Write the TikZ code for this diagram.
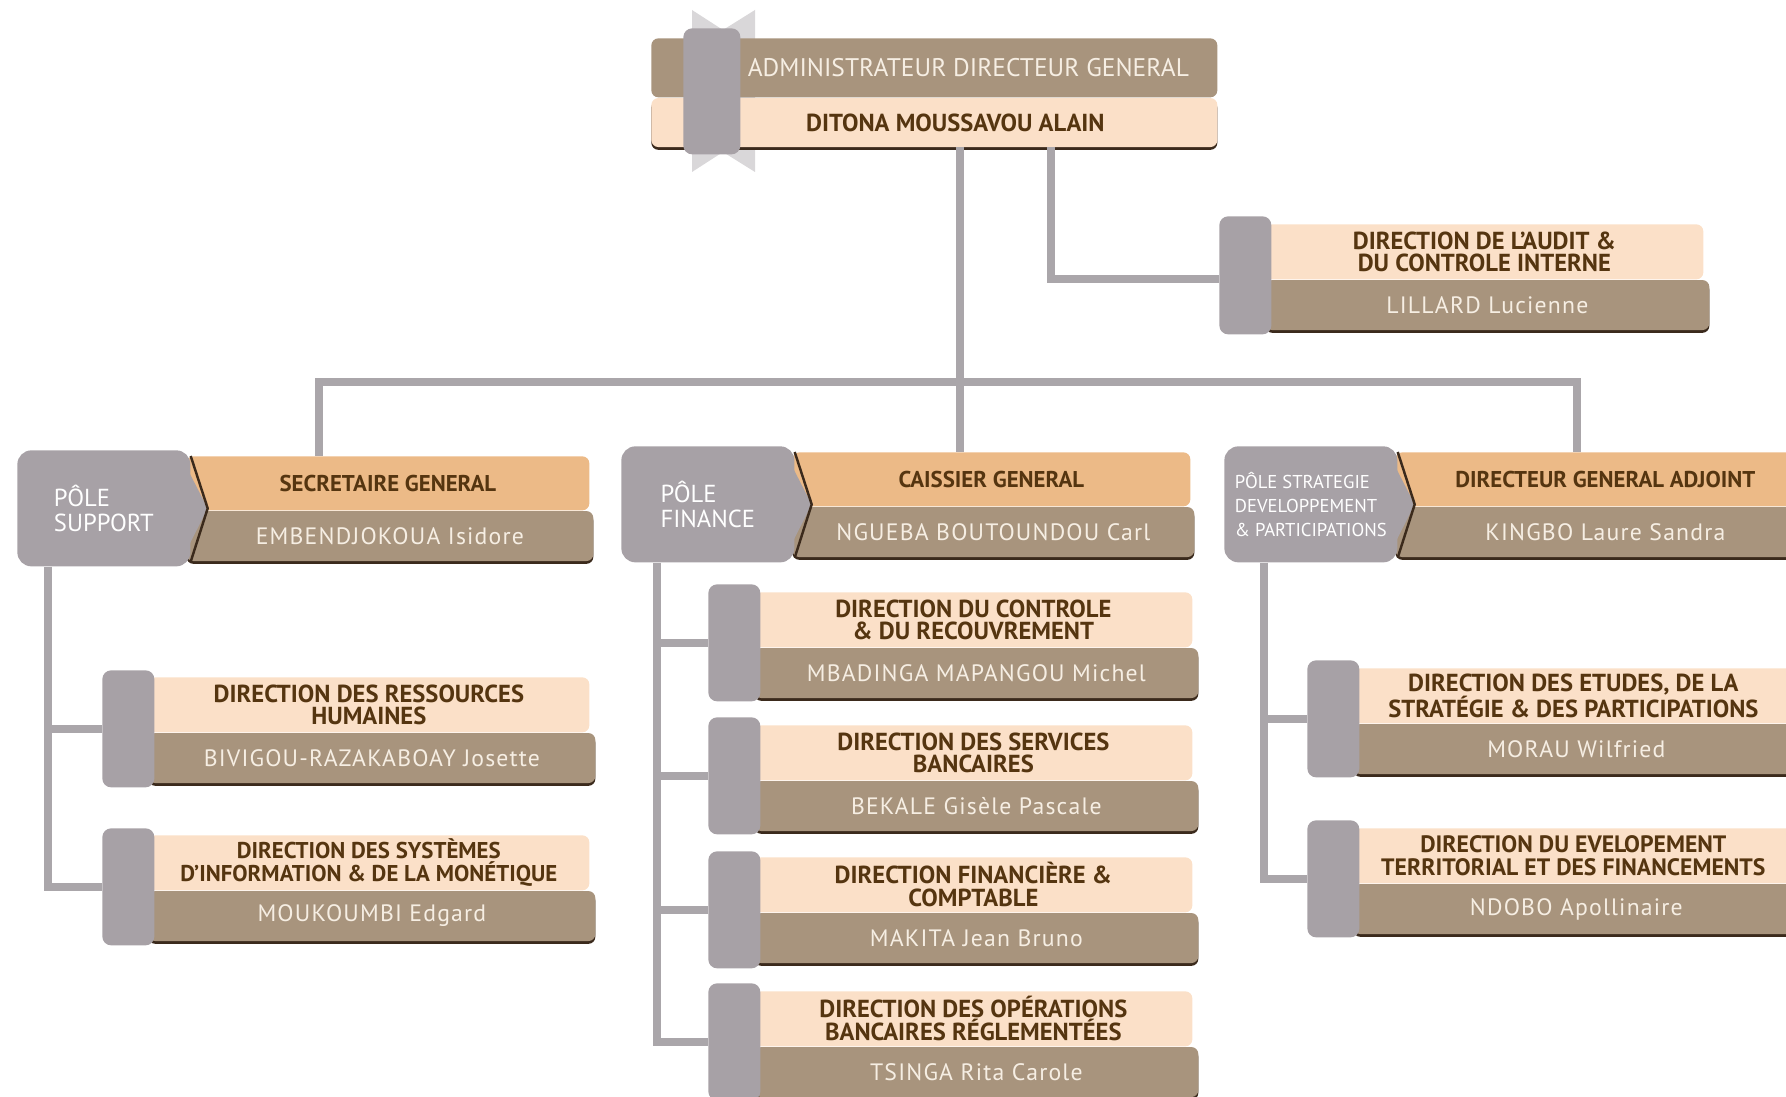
\documentclass[tikz,border=0pt]{standalone}
\usepackage{fontspec}
\setmainfont{PT Sans}
\newfontfamily\spacedfont[LetterSpace=5]{PT Sans}
\usetikzlibrary{positioning, calc, shadows}

\newdimen\px
\px=0.02cm

\definecolor{taupe}{HTML}{A8947D}
\definecolor{peach}{HTML}{FBE0C8}
\definecolor{orangeband}{HTML}{ECBA87}
\definecolor{tabgrey}{HTML}{A7A1A6}
\definecolor{linkgrey}{HTML}{AAA6AA}
\definecolor{ribbon}{HTML}{D9D7D9}
\definecolor{darkbrown}{HTML}{553510}
\definecolor{cream}{HTML}{F6EEE3}
\definecolor{shadowbrown}{HTML}{3B2A1C}

\newcommand{\unitfont}{\bfseries\fontsize{14}{13}\selectfont}
\newcommand{\headfont}{\bfseries\fontsize{13}{13}\selectfont}
\newcommand{\namefont}{\spacedfont\fontsize{13.5}{14}\selectfont}
\newcommand{\polefont}{\fontsize{14}{14.5}\selectfont}

\begin{document}
\begin{tikzpicture}[x=0.02cm, y=-0.02cm,
    every node/.style={inner sep=0pt, font=\unitfont},
    link/.style={draw=linkgrey, line width=8\px},
    shadowed/.style={drop shadow={shadow xshift=0pt, shadow yshift=-1.6pt, fill=shadowbrown, opacity=1}},
    band/.style={anchor=north west, rounded corners=4pt, align=center},
    titlebox/.style={band, fill=peach, text=darkbrown, minimum height=55\px},
    headbox/.style={band, fill=orangeband, text=darkbrown, minimum height=54\px, font=\headfont},
    namebox/.style={band, fill=taupe, text=cream, minimum height=50\px, shadowed, font=\namefont},
    tabbox/.style={anchor=north west, fill=tabgrey, rounded corners=5pt, minimum width=52\px, minimum height=117\px},
    polebox/.style={anchor=north west, fill=tabgrey, text=white, rounded corners=8pt, minimum width=173\px, minimum height=116\px, align=left, font=\polefont},
    chevron/.style={draw=shadowbrown, line width=1.4pt}
]
\useasboundingbox (0,0) rectangle (1786,1097);

% Head of the bank
\fill[ribbon] (692,10) -- (723,30) -- (755,10) -- (755,172) -- (723,152) -- (692,172) -- cycle;
\node[band, fill=taupe, text=cream, minimum width=566\px, minimum height=59\px, font=\fontsize{14.5}{15}\selectfont] (adg) at (651,38) {\hspace*{68\px}ADMINISTRATEUR DIRECTEUR GENERAL};
\node[band, fill=peach, text=darkbrown, minimum width=566\px, minimum height=49\px, shadowed, font=\bfseries\fontsize{14}{15}\selectfont] (adgName) at (adg.south west) {\hspace*{42\px}DITONA MOUSSAVOU ALAIN};
\node[tabbox, minimum width=57\px, minimum height=126\px] (adgTab) at (683,28) {};

% Audit
\node[titlebox, minimum width=438\px] (audit) at (1265,224) {DIRECTION DE L’AUDIT \&\\DU CONTROLE INTERNE};
\node[namebox, minimum width=444\px] (auditName) at (audit.south west) {LILLARD Lucienne};
\node[tabbox, minimum height=118\px] (auditTab) at (1219,216) {};

% Poles
\node[headbox, minimum width=403\px] (sg) at (186,456) {SECRETAIRE GENERAL};
\node[namebox, minimum width=407\px] (sgName) at (sg.south west) {EMBENDJOKOUA Isidore};
\node[polebox] (support) at (17,450) {PÔLE\\SUPPORT};

\node[headbox, minimum width=398\px] (cg) at (792,452) {CAISSIER GENERAL};
\node[namebox, minimum width=402\px] (cgName) at (cg.south west) {NGUEBA BOUTOUNDOU Carl};
\node[polebox] (finance) at (621,446) {PÔLE\\FINANCE};

\node[headbox, minimum width=420\px] (dga) at (1395,452) {DIRECTEUR GENERAL ADJOINT};
\node[namebox, minimum width=420\px] (dgaName) at (dga.south west) {KINGBO Laure Sandra};
\node[polebox, font=\fontsize{10.6}{13.5}\selectfont] (strategy) at (1224,446) {PÔLE STRATEGIE\\DEVELOPPEMENT\\\& PARTICIPATIONS};

\foreach \p in {support, finance, strategy} {
  \fill[tabgrey] ($(\p.north east)+(-10,6)$) -- ($(\p.east)+(17,0)$) -- ($(\p.south east)+(-10,-5)$) -- cycle;
  \draw[chevron] ($(\p.north east)+(0,6)$) -- ($(\p.east)+(17,0)$) -- ($(\p.south east)+(0,-5)$);
}

% Pole support
\node[titlebox, minimum width=441\px] (drh) at (148,677) {DIRECTION DES RESSOURCES\\HUMAINES};
\node[namebox, minimum width=447\px] (drhName) at (drh.south west) {BIVIGOU-RAZAKABOAY Josette};
\node[tabbox] (drhTab) at (102,670) {};
\node[titlebox, minimum width=441\px, font=\bfseries\fontsize{13}{13}\selectfont] (dsi) at (148,835) {DIRECTION DES SYSTÈMES\\D’INFORMATION \& DE LA MONÉTIQUE};
\node[namebox, minimum width=447\px] (dsiName) at (dsi.south west) {MOUKOUMBI Edgard};
\node[tabbox] (dsiTab) at (102,828) {};

% Pole finance
\node[titlebox, minimum width=438\px] (dcr) at (754,592) {DIRECTION DU CONTROLE\\\& DU RECOUVREMENT};
\node[namebox, minimum width=444\px] (dcrName) at (dcr.south west) {MBADINGA MAPANGOU Michel};
\node[tabbox] (dcrTab) at (708,584) {};
\node[titlebox, minimum width=438\px] (dsb) at (754,725) {DIRECTION DES SERVICES\\BANCAIRES};
\node[namebox, minimum width=444\px] (dsbName) at (dsb.south west) {BEKALE Gisèle Pascale};
\node[tabbox] (dsbTab) at (708,717) {};
\node[titlebox, minimum width=438\px] (dfc) at (754,857) {DIRECTION FINANCIÈRE \&\\COMPTABLE};
\node[namebox, minimum width=444\px] (dfcName) at (dfc.south west) {MAKITA Jean Bruno};
\node[tabbox] (dfcTab) at (708,851) {};
\node[titlebox, minimum width=438\px] (dobr) at (754,991) {DIRECTION DES OPÉRATIONS\\BANCAIRES RÉGLEMENTÉES};
\node[namebox, minimum width=444\px] (dobrName) at (dobr.south west) {TSINGA Rita Carole};
\node[tabbox] (dobrTab) at (708,983) {};

% Pole strategie
\node[titlebox, minimum width=440\px] (desp) at (1353,668) {DIRECTION DES ETUDES, DE LA\\STRATÉGIE \& DES PARTICIPATIONS};
\node[namebox, minimum width=446\px] (despName) at (desp.south west) {MORAU Wilfried};
\node[tabbox] (despTab) at (1307,660) {};
\node[titlebox, minimum width=440\px, font=\bfseries\fontsize{13.5}{13}\selectfont] (ddtf) at (1353,828) {DIRECTION DU EVELOPEMENT\\TERRITORIAL ET DES FINANCEMENTS};
\node[namebox, minimum width=446\px] (ddtfName) at (ddtf.south west) {NDOBO Apollinaire};
\node[tabbox] (ddtfTab) at (1307,820) {};

% Links
\coordinate (hub) at (960,382);
\coordinate (barL) at (319,382);
\coordinate (barR) at (1577,382);
\coordinate (auditKnee) at (1051,279);
\coordinate (supX) at (48,0);
\coordinate (finX) at (657,0);
\coordinate (strX) at (1264,0);

\draw[link] (adgName.south -| hub) -- (hub |- cg.north);
\draw[link] (barL |- sg.north) -- (barL) -- (barR) -- (barR |- dga.north);
\draw[link] (adgName.south -| auditKnee) -- (auditKnee) -- (auditKnee -| auditTab.west);

\draw[link] (support.south -| supX) -- (dsiTab.west -| supX) -- (dsiTab.west);
\draw[link] (drhTab.west) -- (drhTab.west -| supX);

\draw[link] (finance.south -| finX) -- (dobrTab.west -| finX) -- (dobrTab.west);
\foreach \t in {dcrTab, dsbTab, dfcTab}
  \draw[link] (\t.west) -- (\t.west -| finX);

\draw[link] (strategy.south -| strX) -- (ddtfTab.west -| strX) -- (ddtfTab.west);
\draw[link] (despTab.west) -- (despTab.west -| strX);
\end{tikzpicture}
\end{document}
